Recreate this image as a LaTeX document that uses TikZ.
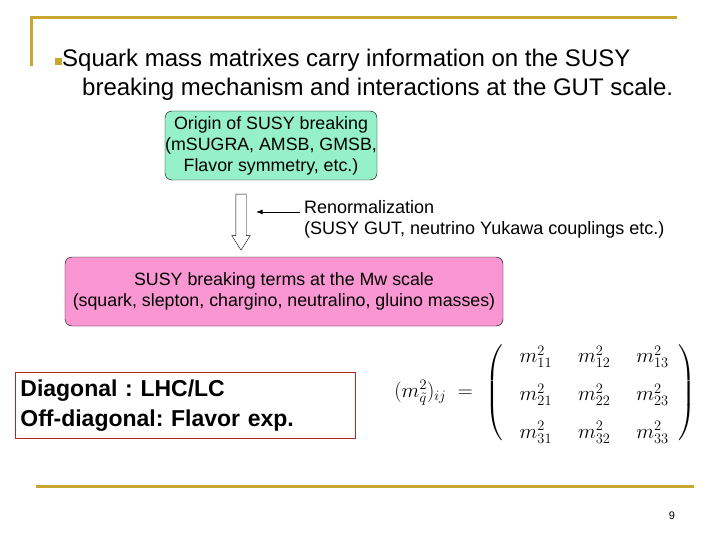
\documentclass[tikz,border=0pt]{standalone}
\usepackage{amsmath,amssymb}
\usepackage{fontspec}
\setmainfont{Liberation Sans}
\usetikzlibrary{arrows.meta,positioning,shapes.arrows,calc}

\definecolor{slidegold}{RGB}{200,166,48}
\definecolor{boxgreen}{RGB}{150,240,200}
\definecolor{boxpink}{RGB}{250,150,210}
\definecolor{boxred}{RGB}{180,40,40}

\begin{document}
\frenchspacing
\begin{tikzpicture}[
    x=1pt, y=-1pt,
    >=Latex,
    goldline/.style={slidegold, line width=3pt},
    stage/.style={
        draw,
        rounded corners=7pt,
        align=center,
        font=\fontsize{17.8}{21}\selectfont,
        inner sep=0pt
    },
    hollowarrow/.style={
        draw,
        fill=white,
        single arrow,
        shape border rotate=270,
        minimum height=56pt,
        inner sep=5pt,
        single arrow head extend=4pt,
        single arrow tip angle=65
    }
]
\useasboundingbox (0,0) rectangle (720,540);

% slide frame
\draw[goldline] (31,66) -- (31,18) -- (677,18);
\draw[goldline] (36,486) -- (694,486);

% heading with bullet
\node[fill=slidegold, minimum size=7pt, inner sep=0pt] (bullet) at (58.5,62) {};
\node[anchor=north west, align=left, font=\fontsize{24}{29}\selectfont, inner sep=0pt]
    (heading) at (62,49) {Squark mass matrixes carry information on the SUSY\\
    \hspace*{20pt}breaking mechanism and interactions at the GUT scale.};

% flow of SUSY breaking
\node[stage, fill=boxgreen, minimum width=212pt, minimum height=69pt] (origin) at (271,145.5)
    {Origin of SUSY breaking\\(mSUGRA, AMSB, GMSB,\\Flavor symmetry, etc.)};
\node[stage, fill=boxpink, minimum width=438pt, minimum height=69pt] (terms) at (284,291.5)
    {SUSY breaking terms at the Mw scale\\(squark, slepton, chargino, neutralino, gluino masses)};
\node[hollowarrow] (flow) at (241,218) {};

\node[anchor=west, font=\fontsize{18}{21}\selectfont, inner sep=0pt] (renorm) at (304,207) {Renormalization};
\node[anchor=west, font=\fontsize{18}{21}\selectfont, inner sep=0pt] (renormsrc) at (304,230)
    {(SUSY GUT, neutrino Yukawa couplings etc.)};
\coordinate (flowside) at (256,212);
\draw[->, thick] ($(renorm.west)+(-4,5)$) -- (flowside);

% where the entries are measured
\node[draw=boxred, thick, fill=white, anchor=north west, align=left, inner sep=5pt,
      text width=330pt, minimum height=66pt, font=\bfseries\fontsize{23}{30}\selectfont]
    (measure) at (15,372) {Diagonal : LHC/LC\\Off-diagonal: Flavor exp.};

% squark mass matrix
\node[anchor=east, font=\fontsize{20}{24}\selectfont, inner sep=0pt] (lhs) at (473,393)
    {$(m^2_{\tilde q})_{ij} \;=$};
\node[anchor=west, font=\fontsize{20}{24}\selectfont, inner sep=0pt] (massmatrix) at (485,393)
    {$\displaystyle
     \renewcommand{\arraystretch}{1.58}\setlength{\arraycolsep}{13pt}
     \delimiterfactor=750 \delimitershortfall=24pt
     \left(\hspace{4pt}\begin{array}{ccc}
       m^2_{11} & m^2_{12} & m^2_{13}\\
       m^2_{21} & m^2_{22} & m^2_{23}\\
       m^2_{31} & m^2_{32} & m^2_{33}
     \end{array}\hspace{-3pt}\right)$};

% page number
\node[font=\fontsize{11}{13}\selectfont] (pagenum) at (672,516) {9};
\end{tikzpicture}
\end{document}
